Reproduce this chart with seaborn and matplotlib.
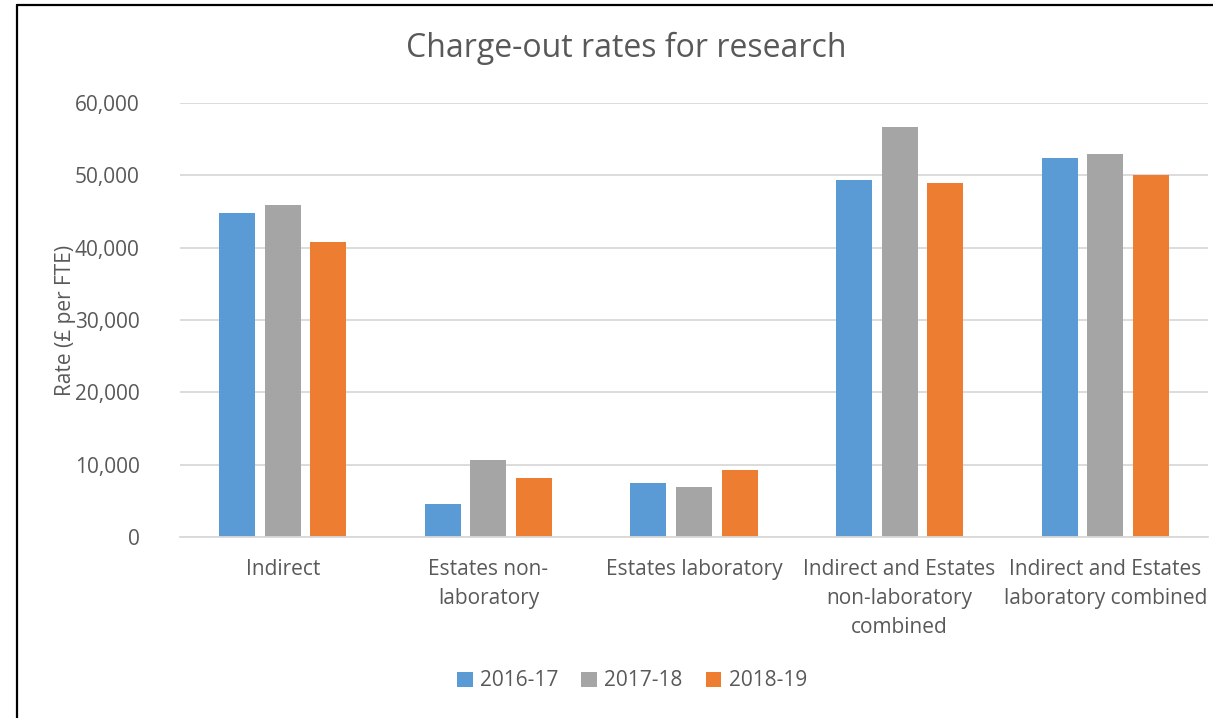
import matplotlib
matplotlib.use("Agg")
import matplotlib.pyplot as plt
import seaborn as sns
import pandas as pd
from matplotlib.lines import Line2D
from matplotlib.patches import Patch

categories = ["Indirect", "Estates non-\nlaboratory", "Estates laboratory",
              "Indirect and Estates\nnon-laboratory\ncombined",
              "Indirect and Estates\nlaboratory combined"]
years = ["2016-17", "2017-18", "2018-19"]
v_2016 = [44800, 4600, 7500, 49400, 52400]
v_2017 = [45900, 10700, 6900, 56700, 52900]
v_2018 = [40800, 8100, 9300, 48900, 50000]
colors = ["#5B9BD5", "#A5A5A5", "#ED7D31"]
yticks = [0, 10000, 20000, 30000, 40000, 50000, 60000]

rows = []
for yr, vals in zip(years, [v_2016, v_2017, v_2018]):
    for c, v in zip(categories, vals):
        rows.append({"Category": c, "Year": yr, "Rate": v})
df = pd.DataFrame(rows)

sns.set_theme(style="white")
plt.rcParams['font.family'] = ['Open Sans', 'DejaVu Sans']
txt = "#595959"
fs = 15

fig = plt.figure(figsize=(12.13, 7.18), dpi=100)
ax = fig.add_axes([180/1213, 1-537/718, 1028/1213, 434/718])

sns.barplot(data=df, x="Category", y="Rate", hue="Year", palette=colors,
            order=categories, hue_order=years, width=0.666, gap=0.21,
            ax=ax, legend=False, saturation=1, linewidth=0, edgecolor="none")

ax.set_xlim(-0.5, 4.5)
ax.set_ylim(0, 60000)
ax.set_yticks(yticks)
ax.set_yticklabels([f"{t:,}" for t in yticks], color=txt, fontsize=fs)
ax.yaxis.grid(True, color="#D9D9D9", linewidth=1.3)
ax.set_axisbelow(True)
for s in ["top", "right", "left"]:
    ax.spines[s].set_visible(False)
ax.spines["bottom"].set_color("#D9D9D9")
ax.spines["bottom"].set_linewidth(1.3)
ax.tick_params(axis="y", length=0, pad=29)
ax.tick_params(axis="x", length=0, pad=16)
ax.set_xticks(range(len(categories)))
ax.set_xticklabels(categories, color=txt, fontsize=fs, linespacing=1.5)
ax.set_xlabel("")
ax.set_ylabel("Rate (£ per FTE)", color=txt, fontsize=fs, labelpad=-1)

fig.text(0.5 * (408 + 845) / 1213, 1 - 48/718, "Charge-out rates for research",
         ha="center", va="center", fontsize=23, color=txt)

handles = [Patch(facecolor=c, edgecolor="none") for c in colors]
fig.legend(handles, years, loc="center", bbox_to_anchor=(632/1213, 1 - 681/718),
           ncol=3, frameon=False, fontsize=fs, handlelength=0.75, handleheight=0.75,
           handletextpad=0.35, columnspacing=1.1, labelcolor=txt)

fig.add_artist(Line2D([16.5/1213, 16.5/1213], [0, 1 - 4.5/718], transform=fig.transFigure,
                      color="black", linewidth=1.6))
fig.add_artist(Line2D([16.5/1213, 1], [1 - 4.5/718, 1 - 4.5/718], transform=fig.transFigure,
                      color="black", linewidth=1.6))

fig.savefig("out.png", dpi=100)
